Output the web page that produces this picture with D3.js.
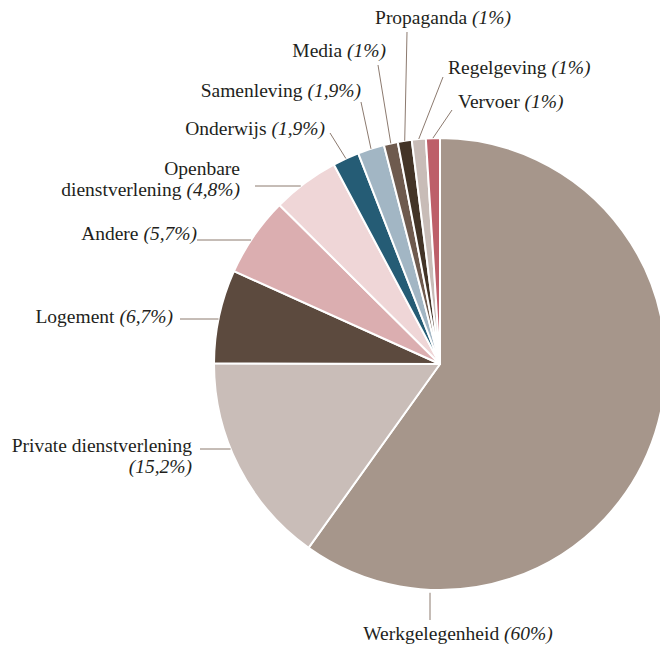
<!DOCTYPE html>
<html>
<head>
<meta charset="utf-8">
<script src="https://cdn.jsdelivr.net/npm/d3@7"></script>
<style>
  body { margin: 0; background: #fff; }
  svg { display: block; }
</style>
</head>
<body>
<svg id="pie"></svg>
<script>
// data
var categories = ["Werkgelegenheid", "Private dienstverlening", "Logement", "Andere",
    "Openbare dienstverlening", "Onderwijs", "Samenleving", "Media", "Propaganda",
    "Regelgeving", "Vervoer"];
var shares = [60, 15.2, 6.7, 5.7, 4.8, 1.9, 1.9, 1, 1, 1, 1];
var colors = ["#a6968b", "#c9bdb8", "#5c4a3e", "#dbaeb0", "#efd6d7", "#255c75",
    "#a2b6c4", "#6e5a4e", "#433427", "#c8bcb7", "#bd5f69"];

// label layout: text lines, anchor, position, leader end point
// kind "h" = horizontal leader to circle, "v" = vertical, "p" = to slice middle
var labelLayout = [
    { lines: [["Werkgelegenheid", true]], anchor: "middle", x: 458, y: 640, kind: "v", lx: 430, ly: 620 },
    { lines: [["Private dienstverlening", false], ["", true]], anchor: "end", x: 192, y: 452, kind: "h", lx: 200, ly: 449 },
    { lines: [["Logement", true]], anchor: "end", x: 173, y: 323, kind: "h", lx: 180, ly: 319 },
    { lines: [["Andere", true]], anchor: "end", x: 197, y: 240, kind: "h", lx: 197, ly: 240 },
    { lines: [["Openbare", false], ["dienstverlening", true]], anchor: "end", x: 240, y: 175, kind: "h", lx: 255, ly: 186 },
    { lines: [["Onderwijs", true]], anchor: "end", x: 325, y: 135, kind: "p", lx: 330, ly: 133 },
    { lines: [["Samenleving", true]], anchor: "end", x: 361, y: 97, kind: "p", lx: 361, ly: 102 },
    { lines: [["Media", true]], anchor: "end", x: 386, y: 57, kind: "p", lx: 378, ly: 65 },
    { lines: [["Propaganda", true]], anchor: "middle", x: 443, y: 24, kind: "p", lx: 407, ly: 32 },
    { lines: [["Regelgeving", true]], anchor: "start", x: 448, y: 74, kind: "p", lx: 443, ly: 77 },
    { lines: [["Vervoer", true]], anchor: "start", x: 458, y: 108, kind: "p", lx: 452, ly: 110 }
];

var serifFont = "'Liberation Serif', 'Times New Roman', serif";

function fmtPct(v) {
    return "(" + String(v).replace(".", ",") + "%)";
}

function DrawPieChart() {
    var width = 660, height = 646;
    var cx = 440, cy = 364, radius = 226;
    var fontSize = 19.5, lineGap = 21;

    var svg = d3.select("svg#pie")
        .attr("width", width)
        .attr("height", height)
        .attr("font-family", serifFont);

    var data = categories.map(function (c, i) {
        return { category: c, share: shares[i], color: colors[i], layout: labelLayout[i] };
    });

    var pie = d3.pie()
        .sort(null)
        .value(function (d) { return d.share; });
    var slices = pie(data);

    var arc = d3.arc().innerRadius(0).outerRadius(radius);
    var edge = d3.arc().innerRadius(radius).outerRadius(radius);

    var g = svg.append("g")
        .attr("transform", "translate(" + cx + "," + cy + ")");

    g.selectAll("path.slice")
        .data(slices)
        .enter()
        .append("path")
        .attr("class", "slice")
        .attr("d", arc)
        .attr("fill", function (d) { return d.data.color; })
        .attr("stroke", "#fff")
        .attr("stroke-width", 2)
        .attr("stroke-linejoin", "round");

    // leader lines
    svg.append("g")
        .attr("class", "leaders")
        .selectAll("line")
        .data(slices)
        .enter()
        .append("line")
        .attr("stroke", "#8c7a6f")
        .attr("stroke-width", 1)
        .each(function (d) {
            var L = d.data.layout;
            var sx, sy;
            if (L.kind === "h") {
                var dy = L.ly - cy;
                sx = cx - Math.sqrt(radius * radius - dy * dy);
                sy = L.ly;
            } else if (L.kind === "v") {
                var dx = L.lx - cx;
                sx = L.lx;
                sy = cy + Math.sqrt(radius * radius - dx * dx) + 3;
            } else {
                var c = edge.centroid(d);
                sx = cx + c[0];
                sy = cy + c[1];
            }
            d3.select(this)
                .attr("x1", L.lx).attr("y1", L.ly)
                .attr("x2", sx).attr("y2", sy);
        });

    // labels
    var labels = svg.append("g")
        .attr("class", "labels")
        .selectAll("text")
        .data(slices)
        .enter()
        .append("text")
        .attr("font-size", fontSize)
        .attr("font-family", serifFont)
        .style("font-family", serifFont)
        .attr("fill", "#231f1c")
        .attr("text-anchor", function (d) { return d.data.layout.anchor; });

    labels.each(function (d) {
        var L = d.data.layout;
        var t = d3.select(this);
        L.lines.forEach(function (ln, i) {
            var first = t.append("tspan")
                .attr("x", L.x)
                .attr("y", L.y + i * lineGap)
                .attr("font-family", serifFont)
                .text(ln[0]);
            if (ln[1]) {
                if (ln[0] === "") {
                    first.attr("font-style", "italic").text(fmtPct(d.data.share));
                } else {
                    t.append("tspan")
                        .attr("font-family", serifFont)
                        .attr("font-style", "italic")
                        .text(" " + fmtPct(d.data.share));
                }
            }
        });
    });
}

DrawPieChart();
</script>
</body>
</html>
